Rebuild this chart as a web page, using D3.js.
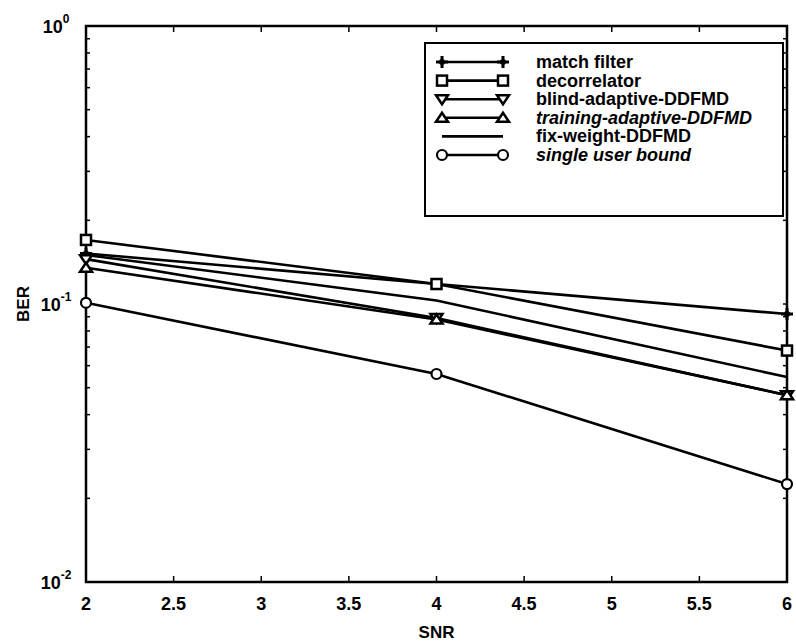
<!DOCTYPE html>
<html>
<head>
<meta charset="utf-8">
<script src="https://cdn.jsdelivr.net/npm/d3@7"></script>
<style>
  body { margin: 0; background: #fff; }
  text { font-family: "Liberation Sans", Arial, sans-serif; font-weight: bold; fill: #000; }
</style>
</head>
<body>
<div id="chart"></div>
<script>
// BER vs SNR values
const snr = [2, 4, 6];
const matchFilter = [0.152, 0.118, 0.092];
const decorrelator = [0.170, 0.118, 0.068];
const blindAdaptive = [0.145, 0.089, 0.047];
const trainingAdaptive = [0.135, 0.088, 0.047];
const fixWeight = [0.150, 0.103, 0.0546];
const singleUser = [0.101, 0.056, 0.0225];

const seriesNames = ["match filter", "decorrelator", "blind-adaptive-DDFMD",
  "training-adaptive-DDFMD", "fix-weight-DDFMD", "single user bound"];
const seriesMarkers = ["plus", "square", "down", "up", "none", "circle"];
const xTicks = [2, 2.5, 3, 3.5, 4, 4.5, 5, 5.5, 6];
const yDecades = [0, -1, -2];

const width = 796, height = 642;
const margin = {left: 86, right: 9, top: 26, bottom: 60};

const svg = d3.select("#chart").append("svg")
  .attr("width", width)
  .attr("height", height);

const x = d3.scaleLinear().domain([2, 6]).range([margin.left, width - margin.right]);
const y = d3.scaleLog().domain([0.01, 1]).range([height - margin.bottom, margin.top]);

const allSeries = [matchFilter, decorrelator, blindAdaptive, trainingAdaptive, fixWeight, singleUser];

// minor log ticks
const minorTicks = [];
[0.01, 0.1].forEach(b => { for (let k = 2; k <= 9; k++) minorTicks.push(b * k); });

const x0 = x.range()[0], x1 = x.range()[1], y0 = y.range()[0], y1 = y.range()[1];

// ticks, inner, on all four sides
const ticks = svg.append("g").attr("stroke", "#000").attr("stroke-width", 1.5);
xTicks.slice(1, -1).forEach(t => {
  ticks.append("line").attr("x1", x(t)).attr("x2", x(t)).attr("y1", y0).attr("y2", y0 - 6);
  ticks.append("line").attr("x1", x(t)).attr("x2", x(t)).attr("y1", y1).attr("y2", y1 + 6);
});
minorTicks.concat([0.1]).forEach(t => {
  ticks.append("line").attr("x1", x0).attr("x2", x0 + 4).attr("y1", y(t)).attr("y2", y(t));
  ticks.append("line").attr("x1", x1).attr("x2", x1 - 4).attr("y1", y(t)).attr("y2", y(t));
});

// frame
svg.append("rect")
  .attr("x", x0).attr("y", y1)
  .attr("width", x1 - x0).attr("height", y0 - y1)
  .attr("fill", "none").attr("stroke", "#000").attr("stroke-width", 2.5);

// x tick labels
svg.append("g").selectAll("text")
  .data(xTicks)
  .enter().append("text")
  .attr("x", d => x(d))
  .attr("y", y0 + 28)
  .attr("text-anchor", "middle")
  .attr("font-size", 18)
  .text(d => d);

// y tick labels 10^n
const yl = svg.append("g").selectAll("text")
  .data(yDecades)
  .enter().append("text")
  .attr("x", x0 - 30)
  .attr("y", d => y(Math.pow(10, d)) + 7)
  .attr("text-anchor", "middle")
  .attr("font-size", 18);
yl.append("tspan").text("10");
yl.append("tspan").attr("dy", -10).attr("font-size", 12).text(d => d);

// axis titles
svg.append("text")
  .attr("x", (x0 + x1) / 2)
  .attr("y", height - 4)
  .attr("text-anchor", "middle")
  .attr("font-size", 17)
  .text("SNR");

svg.append("text")
  .attr("transform", `translate(29,${y(0.1)}) rotate(-90)`)
  .attr("text-anchor", "middle")
  .attr("font-size", 17)
  .text("BER");

// marker drawing
function drawMarker(g, type, cx, cy) {
  const s = 5;
  if (type === "plus") {
    g.append("path")
      .attr("d", `M${cx - s - 1},${cy}L${cx + s + 1},${cy}M${cx},${cy - s - 1}L${cx},${cy + s + 1}`)
      .attr("stroke", "#000").attr("stroke-width", 3);
    g.append("circle").attr("cx", cx).attr("cy", cy).attr("r", 3).attr("fill", "#000");
  } else if (type === "square") {
    g.append("rect").attr("x", cx - s).attr("y", cy - s).attr("width", 2 * s).attr("height", 2 * s)
      .attr("fill", "#fff").attr("stroke", "#000").attr("stroke-width", 2.5);
  } else if (type === "down") {
    g.append("path")
      .attr("d", `M${cx - s - 1},${cy - s + 1}L${cx + s + 1},${cy - s + 1}L${cx},${cy + s}Z`)
      .attr("fill", "#fff").attr("stroke", "#000").attr("stroke-width", 2.5);
  } else if (type === "up") {
    g.append("path")
      .attr("d", `M${cx - s - 1},${cy + s - 1}L${cx + s + 1},${cy + s - 1}L${cx},${cy - s}Z`)
      .attr("fill", "#fff").attr("stroke", "#000").attr("stroke-width", 2.5);
  } else if (type === "circle") {
    g.append("circle").attr("cx", cx).attr("cy", cy).attr("r", 5)
      .attr("fill", "#fff").attr("stroke", "#000").attr("stroke-width", 2.2);
  }
}

const line = d3.line()
  .x((d, i) => x(snr[i]))
  .y(d => y(d));

const plot = svg.append("g");
allSeries.forEach((vals, si) => {
  plot.append("path")
    .datum(vals)
    .attr("d", line)
    .attr("fill", "none")
    .attr("stroke", "#000")
    .attr("stroke-width", 2.6);
});
allSeries.forEach((vals, si) => {
  vals.forEach((v, i) => drawMarker(plot, seriesMarkers[si], x(snr[i]), y(v)));
});

// legend
const lg = svg.append("g");
lg.append("rect")
  .attr("x", 425).attr("y", 43)
  .attr("width", 358).attr("height", 173)
  .attr("fill", "#fff").attr("stroke", "#000").attr("stroke-width", 2);

seriesNames.forEach((name, i) => {
  const ly = 62 + i * 18.6;
  lg.append("line")
    .attr("x1", 442).attr("x2", 503).attr("y1", ly).attr("y2", ly)
    .attr("stroke", "#000").attr("stroke-width", 2.6);
  drawMarker(lg, seriesMarkers[i], 442, ly);
  drawMarker(lg, seriesMarkers[i], 503, ly);
  lg.append("text")
    .attr("x", 536)
    .attr("y", ly + 6)
    .attr("font-size", 18)
    .attr("font-style", i === 3 || i === 5 ? "italic" : "normal")
    .text(name);
});
</script>
</body>
</html>
